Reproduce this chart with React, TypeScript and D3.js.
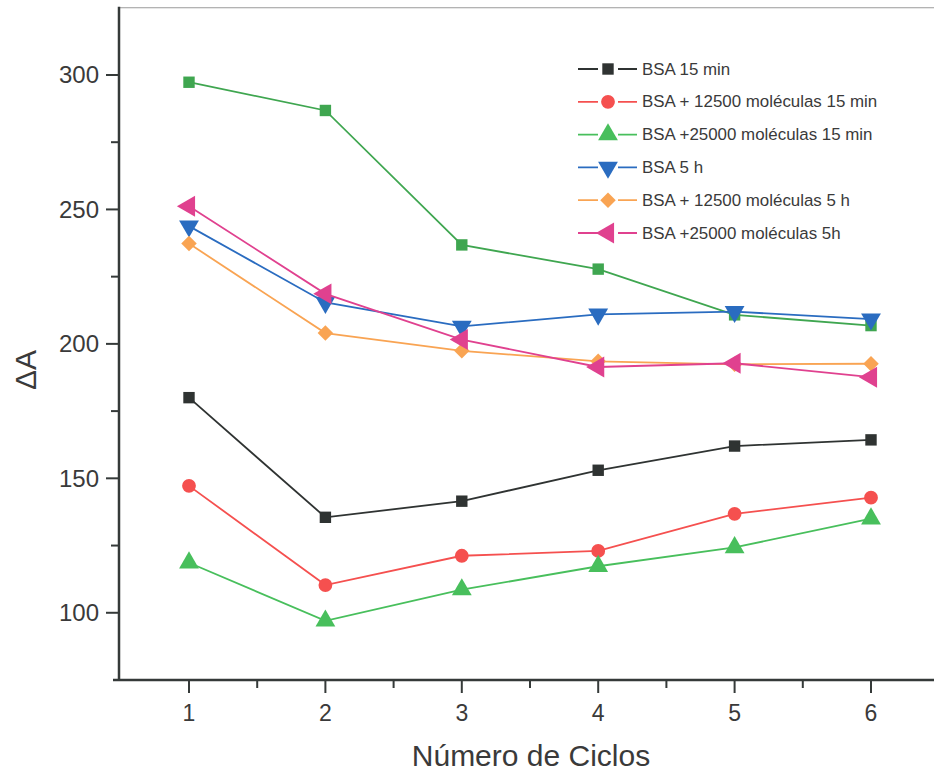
import React from "react";
import * as d3 from "d3";

// Cycle numbers on the x axis
const cycles = [1, 2, 3, 4, 5, 6];

// ΔA values per series
const bsa15min = [180, 135.5, 141.5, 153, 162, 164.3];
const bsa12500_15min = [147.2, 110.3, 121.2, 123, 136.8, 142.8];
const bsa25000_15min = [118.6, 97, 108.6, 117.3, 124.3, 135];
const bsa25000_15min_b = [297.3, 286.8, 236.8, 227.8, 210.8, 206.8];
const bsa5h = [243.8, 215.4, 206.5, 211, 212, 209.2];
const bsa12500_5h = [237.3, 204, 197.4, 193.5, 192.4, 192.6];
const bsa25000_5h = [251.2, 218.6, 201.6, 191.4, 192.8, 187.6];

// Axis ticks
const yMajorTicks = [100, 150, 200, 250, 300];
const yMinorTicks = [125, 175, 225, 275];
const xMinorTicks = [1.5, 2.5, 3.5, 4.5, 5.5];

type Shape = "square" | "circle" | "triangleUp" | "triangleDown" | "diamond" | "triangleLeft";

interface Series {
  name: string;
  values: number[];
  color: string;
  shape: Shape;
  legend: boolean;
}

const series: Series[] = [
  { name: "BSA +25000 moléculas 15 min", values: bsa25000_15min_b, color: "#3fa650", shape: "square", legend: false },
  { name: "BSA 15 min", values: bsa15min, color: "#2f3332", shape: "square", legend: true },
  { name: "BSA + 12500 moléculas 15 min", values: bsa12500_15min, color: "#f5504f", shape: "circle", legend: true },
  { name: "BSA +25000 moléculas 15 min", values: bsa25000_15min, color: "#48bf5c", shape: "triangleUp", legend: true },
  { name: "BSA 5 h", values: bsa5h, color: "#2a6cc0", shape: "triangleDown", legend: true },
  { name: "BSA + 12500 moléculas 5 h", values: bsa12500_5h, color: "#f9a453", shape: "diamond", legend: true },
  { name: "BSA +25000 moléculas 5h", values: bsa25000_5h, color: "#e0418f", shape: "triangleLeft", legend: true },
];

const W = 934;
const H = 775;
const left = 119;
const bottom = 680;
const top = 7.75;

const x = d3.scaleLinear().domain([1, 6]).range([189, 871]);
const y = d3.scaleLinear().domain([75, 325]).range([bottom, top]);

const symbolTypes: Record<Shape, d3.SymbolType> = {
  square: d3.symbolSquare,
  circle: d3.symbolCircle,
  triangleUp: d3.symbolTriangle,
  triangleDown: d3.symbolTriangle,
  diamond: d3.symbolSquare,
  triangleLeft: d3.symbolTriangle,
};
const symbolSizes: Record<Shape, number> = {
  square: 130,
  circle: 150,
  triangleUp: 170,
  triangleDown: 170,
  diamond: 120,
  triangleLeft: 190,
};
const rotation: Record<Shape, number> = {
  square: 0,
  circle: 0,
  triangleUp: 0,
  triangleDown: 180,
  diamond: 45,
  triangleLeft: -90,
};

function Marker({ cx, cy, shape, color }: { cx: number; cy: number; shape: Shape; color: string }) {
  const d = d3.symbol().type(symbolTypes[shape]).size(symbolSizes[shape])() || "";
  return (
    <path
      d={d}
      fill={color}
      transform={`translate(${cx},${cy}) rotate(${rotation[shape]})`}
    />
  );
}

const line = d3
  .line<[number, number]>()
  .x((d) => x(d[0]))
  .y((d) => y(d[1]));

const axisColor = "#353a39";
const textColor = "#3a3a3a";
const font = "Liberation Sans, Arial, Helvetica, sans-serif";

export default function App() {
  const legendItems = series.filter((s) => s.legend);
  return (
    <svg
      width={W}
      height={H}
      style={{ position: "absolute", left: 0, top: 0, background: "#fff", fontFamily: font }}
    >
      <rect width={W} height={H} fill="#fff" />
      {/* top frame */}
      <line x1={left} x2={W} y1={top} y2={top} stroke="#9a9a9a" strokeWidth={1.2} />

      {/* series */}
      {series.map((s, i) => (
        <g key={i}>
          <path
            d={line(s.values.map((v, j) => [cycles[j], v]) as [number, number][]) || ""}
            fill="none"
            stroke={s.color}
            strokeWidth={1.8}
          />
          {s.values.map((v, j) => (
            <Marker key={j} cx={x(cycles[j])} cy={y(v)} shape={s.shape} color={s.color} />
          ))}
        </g>
      ))}

      {/* y axis */}
      <line x1={left} x2={left} y1={top - 1} y2={bottom + 1} stroke={axisColor} strokeWidth={2.5} />
      {yMajorTicks.map((t) => (
        <g key={t}>
          <line x1={left - 13} x2={left} y1={y(t)} y2={y(t)} stroke={axisColor} strokeWidth={2} />
          <text
            x={left - 20}
            y={y(t)}
            textAnchor="end"
            dominantBaseline="central"
            fontSize={24}
            fill={textColor}
          >
            {t}
          </text>
        </g>
      ))}
      {yMinorTicks.map((t) => (
        <line key={t} x1={left - 8} x2={left} y1={y(t)} y2={y(t)} stroke={axisColor} strokeWidth={2} />
      ))}

      {/* x axis */}
      <line x1={left - 6} x2={W} y1={bottom} y2={bottom} stroke={axisColor} strokeWidth={2.5} />
      {cycles.map((c) => (
        <g key={c}>
          <line x1={x(c)} x2={x(c)} y1={bottom} y2={bottom + 13} stroke={axisColor} strokeWidth={2} />
          <text x={x(c)} y={bottom + 41} textAnchor="middle" fontSize={23} fill={textColor}>
            {c}
          </text>
        </g>
      ))}
      {xMinorTicks.map((c) => (
        <line key={c} x1={x(c)} x2={x(c)} y1={bottom} y2={bottom + 8} stroke={axisColor} strokeWidth={2} />
      ))}

      {/* axis titles */}
      <text x={531} y={766} textAnchor="middle" fontSize={30} fill={textColor}>
        Número de Ciclos
      </text>
      <text
        transform={`translate(36,370) rotate(-90)`}
        textAnchor="middle"
        fontSize={30}
        fill={textColor}
      >
        ΔA
      </text>

      {/* legend */}
      {legendItems.map((s, i) => {
        const ly = 69 + i * 32.8;
        return (
          <g key={i}>
            <line x1={578} x2={637} y1={ly} y2={ly} stroke={s.color} strokeWidth={1.8} />
            <rect x={598} y={ly - 8} width={20} height={16} fill="#fff" />
            <Marker cx={608} cy={ly} shape={s.shape} color={s.color} />
            <text x={642} y={ly} dominantBaseline="central" fontSize={16.9} fill={textColor}>
              {s.name}
            </text>
          </g>
        );
      })}
    </svg>
  );
}
